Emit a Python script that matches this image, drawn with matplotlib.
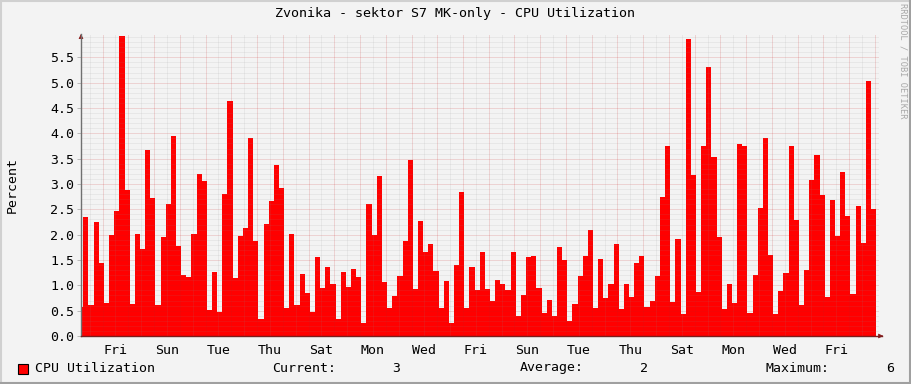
import matplotlib
matplotlib.use("Agg")
import matplotlib.pyplot as plt
from matplotlib.lines import Line2D
from matplotlib.patches import Rectangle
import numpy as np

# ---- data ----
title = "Zvonika - sektor S7 MK-only - CPU Utilization"
ylabel = "Percent"
series_name = "CPU Utilization"
cpu_values = [
    0.58, 2.34, 0.61, 2.25, 1.45, 0.66, 1.99, 2.47, 5.92, 2.88,
    0.63, 2.01, 1.72, 3.67, 2.72, 0.61, 1.95, 2.61, 3.95, 1.78,
    1.20, 1.17, 2.01, 3.20, 3.06, 0.51, 1.26, 0.47, 2.80, 4.64,
    1.14, 1.97, 2.13, 3.91, 1.88, 0.34, 2.21, 2.66, 3.38, 2.92,
    0.56, 2.01, 0.61, 1.22, 0.85, 0.47, 1.56, 0.95, 1.36, 1.03,
    0.34, 1.26, 0.97, 1.32, 1.16, 0.26, 2.61, 1.99, 3.16, 1.07,
    0.56, 0.79, 1.18, 1.88, 3.47, 0.93, 2.27, 1.66, 1.82, 1.29,
    0.56, 1.09, 0.26, 1.40, 2.84, 0.56, 1.36, 0.91, 1.66, 0.93,
    0.69, 1.11, 1.03, 0.91, 1.66, 0.39, 0.81, 1.56, 1.58, 0.95,
    0.45, 0.71, 0.39, 1.76, 1.50, 0.30, 0.63, 1.18, 1.58, 2.09,
    0.56, 1.52, 0.75, 1.03, 1.82, 0.53, 1.03, 0.77, 1.44, 1.58,
    0.57, 0.69, 1.18, 2.75, 3.75, 0.67, 1.91, 0.43, 5.86, 3.18,
    0.87, 3.75, 5.31, 3.53, 1.95, 0.53, 1.03, 0.65, 3.79, 3.75,
    0.45, 1.20, 2.53, 3.91, 1.60, 0.43, 0.89, 1.24, 3.75, 2.29,
    0.61, 1.31, 3.08, 3.57, 2.79, 0.77, 2.68, 1.97, 3.24, 2.37,
    0.83, 2.57, 1.84, 5.03, 2.51,
]
day_labels = ["Fri", "Sun", "Tue", "Thu", "Sat", "Mon", "Wed", "Fri",
              "Sun", "Tue", "Thu", "Sat", "Mon", "Wed", "Fri"]
y_ticks = [0.0, 0.5, 1.0, 1.5, 2.0, 2.5, 3.0, 3.5, 4.0, 4.5, 5.0, 5.5]
legend_current = "3"
legend_average = "2"
legend_maximum = "6"

# time layout (days)
total_days = 31.0
step_days = 0.2          # one consolidated sample = 4.8 h
first_start = -0.11      # first sample begins before the window
first_midnight = 0.84

W, H = 911, 384
BG = "#f3f3f3"
MONO = "DejaVu Sans Mono"

fig = plt.figure(figsize=(W / 100, H / 100), dpi=100, facecolor=BG)
ax = fig.add_axes([81 / W, (H - 336) / H, 798 / W, 302 / H])
ax.set_facecolor(BG)

x = first_start + step_days * np.arange(len(cpu_values))
ax.bar(x, cpu_values, width=step_days, align="edge", color="#ff0000",
       linewidth=0, zorder=2)

ax.set_xlim(0, total_days)
ax.set_ylim(0, 5.96)

# grid (drawn on top, semi-transparent like rrdtool)
dot = (0, (1, 1))
for yv in np.arange(0.1, 5.95, 0.1):
    major = abs(yv / 0.5 - round(yv / 0.5)) < 1e-6
    if major:
        ax.axhline(yv, color="#c81e1e", alpha=0.3, lw=0.72, ls=dot, zorder=3)
    else:
        ax.axhline(yv, color="#8c8c8c", alpha=0.22, lw=0.72, ls=dot, zorder=3)
xv = first_midnight - 0.5
while xv < total_days:
    if xv > 0:
        ax.axvline(xv, color="#8c8c8c", alpha=0.22, lw=0.72, ls=dot, zorder=3)
    xv += 1.0
xv = first_midnight
while xv < total_days:
    ax.axvline(xv, color="#c81e1e", alpha=0.3, lw=0.72, ls=dot, zorder=3)
    xv += 1.0

for s in ax.spines.values():
    s.set_visible(False)

# axis lines
ax.plot([0, 0], [0, 5.96], color="#707070", lw=1.0, zorder=4, clip_on=False)
ax.plot([0, total_days + 0.1], [0, 0], color="#7a1e1e", lw=1.0, zorder=4,
        clip_on=False)
# arrows
ax.annotate("", xy=(0, 1.0), xytext=(0, 0.985), xycoords="axes fraction",
            arrowprops=dict(arrowstyle="-|>", color="#8b1a1a", lw=0.5,
                            mutation_scale=7), annotation_clip=False)
ax.annotate("", xy=(1.0 + 7 / 798, 0), xytext=(1.0, 0), xycoords="axes fraction",
            arrowprops=dict(arrowstyle="-|>", color="#8b1a1a", lw=0.5,
                            mutation_scale=7), annotation_clip=False)

ax.set_yticks(y_ticks)
ax.set_yticklabels([f"{t:.1f}" for t in y_ticks], fontfamily=MONO, fontsize=9.5,
                   color="#000000")
label_pos = [first_midnight + 0.5 + 2 * i for i in range(len(day_labels))]
ax.set_xticks(label_pos)
ax.set_xticklabels(day_labels, fontfamily=MONO, fontsize=9.5, color="#000000")
ax.tick_params(axis="y", length=3, width=0.6, color="#b0b0b0", pad=2)
ax.tick_params(axis="x", length=0, pad=6)

# texts
fig.text(455 / W, 1 - 14 / H, title, ha="center", va="center",
         fontfamily=MONO, fontsize=9.6, color="#000000")
fig.text(12 / W, 1 - 185 / H, ylabel, rotation=90, ha="center", va="center",
         fontfamily=MONO, fontsize=9.5, color="#000000")
fig.text(903 / W, 1 - 61 / H, "RRDTOOL / TOBI OETIKER", rotation=270,
         ha="center", va="center", fontfamily=MONO, fontsize=6.2,
         color="#a8a8a8")

ly = 1 - 368 / H
fig.patches.append(Rectangle((18 / W, 1 - 374 / H), 10 / W, 10 / H,
                             transform=fig.transFigure, facecolor="#ff0000",
                             edgecolor="#000000", lw=0.8))
fig.text(35 / W, ly, series_name, ha="left", va="center", fontfamily=MONO,
         fontsize=9.5)
fig.text(272 / W, ly, "Current:", ha="left", va="center", fontfamily=MONO,
         fontsize=9.5)
fig.text(400 / W, ly, legend_current, ha="right", va="center", fontfamily=MONO,
         fontsize=9.5)
fig.text(520 / W, ly, "Average:", ha="left", va="center", fontfamily=MONO,
         fontsize=9.5)
fig.text(648 / W, ly, legend_average, ha="right", va="center", fontfamily=MONO,
         fontsize=9.5)
fig.text(765 / W, ly, "Maximum:", ha="left", va="center", fontfamily=MONO,
         fontsize=9.5)
fig.text(894 / W, ly, legend_maximum, ha="right", va="center", fontfamily=MONO,
         fontsize=9.5)

# 3D frame
fig.lines.append(Line2D([0, 1], [1 - 1 / H, 1 - 1 / H], transform=fig.transFigure,
                        color="#d0d0d0", lw=1.5))
fig.lines.append(Line2D([1 / W, 1 / W], [0, 1], transform=fig.transFigure,
                        color="#d0d0d0", lw=1.5))
fig.lines.append(Line2D([0, 1], [1 / H, 1 / H], transform=fig.transFigure,
                        color="#a0a0a0", lw=1.5))
fig.lines.append(Line2D([1 - 1 / W, 1 - 1 / W], [0, 1], transform=fig.transFigure,
                        color="#a0a0a0", lw=1.5))

fig.savefig("out.png", dpi=100, facecolor=BG)
